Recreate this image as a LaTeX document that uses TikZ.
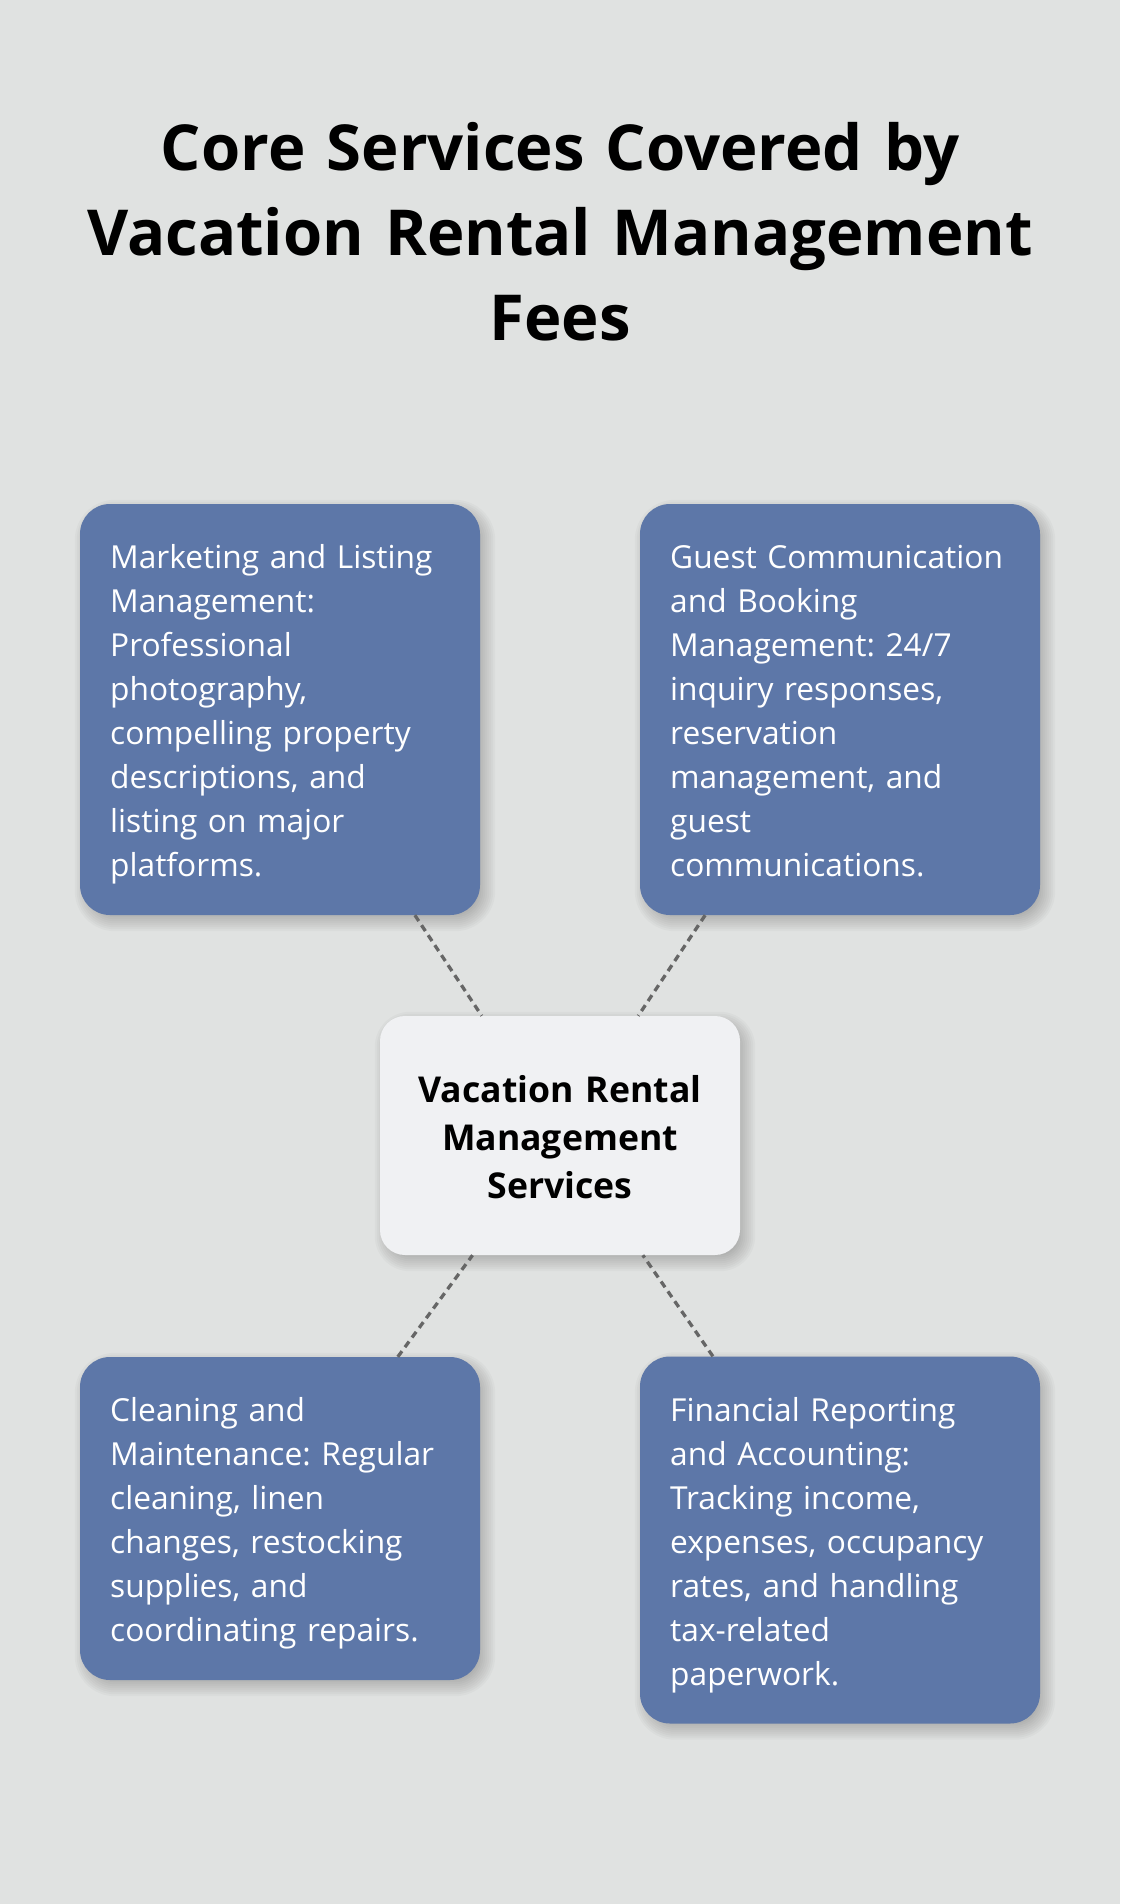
\documentclass[tikz,border=0pt]{standalone}
\usepackage{fontspec}
\setmainfont{Open Sans}
\usetikzlibrary{calc}
\definecolor{bg}{HTML}{E0E2E1}
\definecolor{cardblue}{HTML}{5D77A8}
\definecolor{centerfill}{HTML}{F0F1F3}
\definecolor{dashgray}{HTML}{666666}
\frenchspacing
\pgfdeclarelayer{bglayer}
\pgfdeclarelayer{shadowlayer}
\pgfsetlayers{bglayer,shadowlayer,main}
\newcommand\castshadow[2]{%
  \foreach \e in {10,8,...,-10}{%
    \pgfmathsetmacro\rr{max(#2+\e,4)}%
    \fill[black, opacity=0.024, rounded corners=\rr pt]
      ($(#1.north west)+(5-\e,6-\e)$) rectangle ($(#1.south east)+(5+\e,6+\e)$);
  }}
\begin{document}
\begin{tikzpicture}[x=1pt,y=-1pt,
  card/.style={draw=none, fill=cardblue, rounded corners=30pt, minimum width=400pt, inner sep=0pt},
  hub/.style={draw=none, fill=centerfill, rounded corners=25pt, minimum width=360pt, minimum height=239pt, inner sep=0pt},
  cardtext/.style={anchor=base west, inner sep=0pt, text width=380pt, align=left, text=white,
    font=\fontsize{31.7}{44}\selectfont},
  hubtext/.style={anchor=base, inner sep=0pt, text width=340pt, align=center, text=black,
    font=\fontsize{35.6}{48}\selectfont\bfseries},
  titletext/.style={anchor=base, inner sep=0pt, text width=1060pt, align=center, text=black,
    font=\fontsize{63.4}{85}\selectfont\bfseries},
  link/.style={draw=dashgray, line width=3.3pt, dash pattern=on 7pt off 5pt}]
\begin{pgfonlayer}{bglayer}
\fill[bg] (0,0) rectangle (1120,1904);
\end{pgfonlayer}
\useasboundingbox (0,0) rectangle (1120,1904);

\node[titletext] (title) at (560,170) {Core Services Covered by\\Vacation Rental Management\\Fees};

\node[card, minimum height=411pt] (b1) at (280,709.5) {};
\node[card, minimum height=411pt] (b2) at (840,709.5) {};
\node[card, minimum height=323pt] (b3) at (280,1518.5) {};
\node[card, minimum height=367pt] (b4) at (840,1540) {};
\node[hub] (hub) at (560,1135.5) {};

\begin{pgfonlayer}{shadowlayer}
\castshadow{b1}{30}
\castshadow{b2}{30}
\castshadow{b3}{30}
\castshadow{b4}{30}
\castshadow{hub}{25}
\end{pgfonlayer}

\node[cardtext] (t1) at (110,568) {Marketing and Listing\\Management:\\Professional\\photography,\\compelling property\\descriptions, and\\listing on major\\platforms.};
\node[cardtext] (t2) at (670,568) {Guest Communication\\and Booking\\Management: 24/7\\inquiry responses,\\reservation\\management, and\\guest\\communications.};
\node[cardtext] (t3) at (110,1421) {Cleaning and\\Maintenance: Regular\\cleaning, linen\\changes, restocking\\supplies, and\\coordinating repairs.};
\node[cardtext] (t4) at (670,1421) {Financial Reporting\\and Accounting:\\Tracking income,\\expenses, occupancy\\rates, and handling\\tax-related\\paperwork.};

\node[hubtext] (ht) at (560,1102) {Vacation Rental\\Management\\Services};

\draw[link] (b1) -- (hub);
\draw[link] (b2) -- (hub);
\draw[link] (b3) -- (hub);
\draw[link] (b4) -- (hub);
\end{tikzpicture}
\end{document}
